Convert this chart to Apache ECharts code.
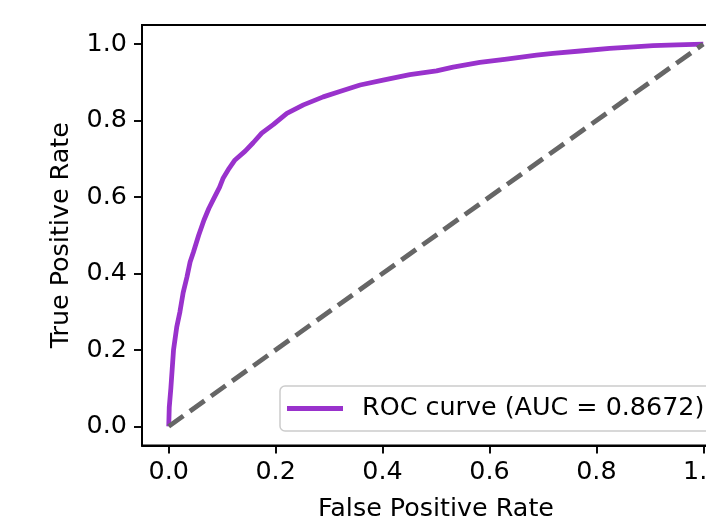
<!DOCTYPE html>
<html>
<head>
<meta charset="utf-8">
<script src="https://cdn.jsdelivr.net/npm/echarts@6/dist/echarts.min.js"></script>
<style>
html,body{margin:0;padding:0;background:#fff;}
#chart{width:706px;height:519px;}
</style>
</head>
<body>
<div id="chart"></div>
<script>
// ROC curve points
var fpr = [0, 0.001, 0.004, 0.009, 0.015, 0.021, 0.027, 0.034, 0.040, 0.046, 0.056, 0.066, 0.075, 0.084, 0.095, 0.102, 0.113, 0.124, 0.143, 0.158, 0.174, 0.196, 0.221, 0.252, 0.289, 0.320, 0.358, 0.401, 0.451, 0.501, 0.532, 0.582, 0.632, 0.688, 0.719, 0.770, 0.825, 0.870, 0.906, 0.950, 1.0];
var tpr = [0, 0.05, 0.10, 0.20, 0.26, 0.30, 0.35, 0.39, 0.43, 0.455, 0.50, 0.54, 0.57, 0.595, 0.625, 0.65, 0.675, 0.697, 0.72, 0.742, 0.767, 0.79, 0.819, 0.841, 0.862, 0.876, 0.893, 0.906, 0.920, 0.930, 0.940, 0.952, 0.961, 0.971, 0.976, 0.982, 0.989, 0.993, 0.996, 0.998, 1.0];
var chanceX = [0, 1];
var chanceY = [0, 1];
var xTicks = [0, 0.2, 0.4, 0.6, 0.8, 1.0];
var yTicks = [0, 0.2, 0.4, 0.6, 0.8, 1.0];
var axisMin = -0.05, axisMax = 1.05;
var rocLabel = 'ROC curve (AUC = 0.8672)';
var xName = 'False Positive Rate';
var yName = 'True Positive Rate';

var rocData = fpr.map(function (v, i) { return [v, tpr[i]]; });
var chanceData = chanceX.map(function (v, i) { return [v, chanceY[i]]; });

var FONT = 'DejaVu Sans';
var FS = 25.4;

var chart = echarts.init(document.getElementById('chart'), null, {renderer: 'canvas'});
chart.setOption({
  animation: false,
  backgroundColor: '#ffffff',
  grid: {left: 142, top: 25, width: 588, height: 420.5, show: true,
         borderColor: '#000', borderWidth: 1.9, backgroundColor: 'transparent',
         containLabel: false, outerBoundsMode: 'none'},
  xAxis: {type: 'value', min: axisMin, max: axisMax, position: 'bottom',
     axisLine: {show: true, onZero: false, lineStyle: {color: '#000', width: 1.9}},
     splitLine: {show: false},
     axisTick: {show: true, inside: false, length: 8, customValues: xTicks, lineStyle: {color: '#000', width: 1.9}},
     axisLabel: {color: '#000', fontFamily: FONT, fontSize: FS, margin: 14, customValues: xTicks,
       formatter: function (v) { return v.toFixed(1); }},
     name: xName, nameLocation: 'middle', nameGap: 51,
     nameTextStyle: {color: '#000', fontFamily: FONT, fontSize: FS}},
  yAxis: {type: 'value', min: axisMin, max: axisMax, position: 'left',
     axisLine: {show: true, onZero: false, lineStyle: {color: '#000', width: 1.9}},
     splitLine: {show: false},
     axisTick: {show: true, inside: false, length: 8, customValues: yTicks, lineStyle: {color: '#000', width: 1.9}},
     axisLabel: {color: '#000', fontFamily: FONT, fontSize: FS, margin: 15, customValues: yTicks,
       formatter: function (v) { return v.toFixed(1); }},
     name: yName, nameLocation: 'middle', nameGap: 68, nameRotate: 90,
     nameTextStyle: {color: '#000', fontFamily: FONT, fontSize: FS}},
  legend: {
    show: true, left: 280, top: 386, orient: 'horizontal',
    data: [rocLabel],
    icon: 'rect', itemWidth: 56, itemHeight: 5,
    padding: [10, 15, 10, 7],
    backgroundColor: 'rgba(255,255,255,0.8)',
    borderColor: '#cccccc', borderWidth: 1.5, borderRadius: 5,
    textStyle: {color: '#000', fontFamily: FONT, fontSize: FS, padding: [0, 0, 0, 14]},
    z: 10
  },
  series: [
    {name: rocLabel, type: 'line', data: rocData,
     showSymbol: false, symbol: 'none', clip: true, smooth: false,
     lineStyle: {color: '#9932CC', width: 4.8, cap: 'butt', join: 'round'},
     itemStyle: {color: '#9932CC'}},
    {name: 'chance', type: 'line', data: chanceData,
     showSymbol: false, symbol: 'none', clip: true,
     lineStyle: {color: '#666666', width: 4.8, type: [18, 8], cap: 'butt'},
     itemStyle: {color: '#666666'}}
  ]
});
</script>
</body>
</html>
